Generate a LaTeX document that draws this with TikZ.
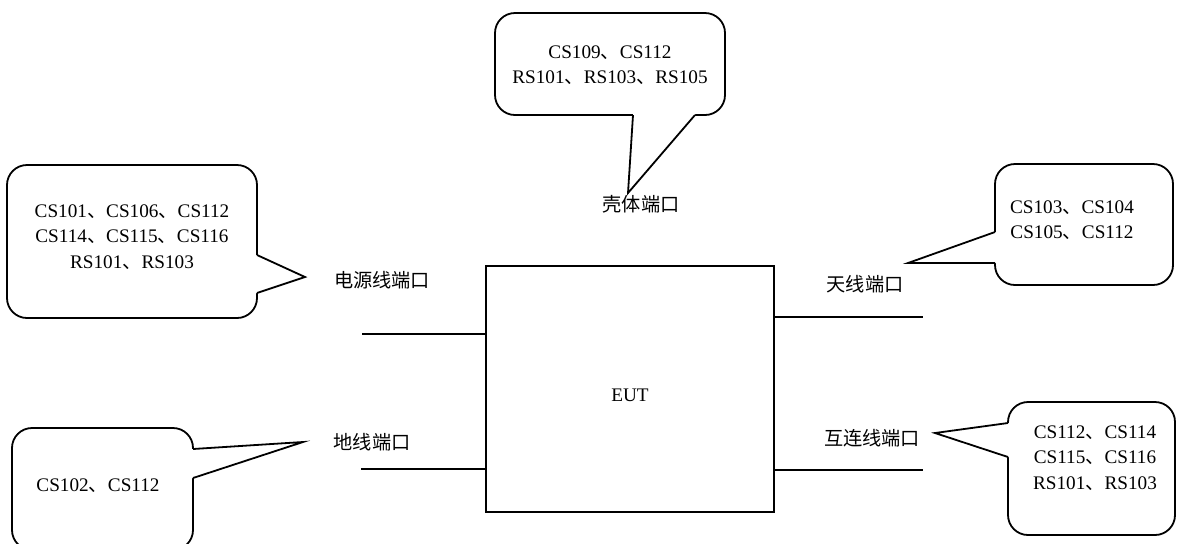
\documentclass[tikz,border=0pt]{standalone}
\usepackage{fontspec}
\setmainfont{Liberation Serif}
\newfontfamily\cjk{Noto Sans CJK SC}
\newcommand\dunhao{{\cjk 、}}
\usetikzlibrary{calc}
\begin{document}
\begin{tikzpicture}[x=0.5pt,y=-0.5pt, line width=0.9pt,
  bubble/.style={draw, rounded corners=10pt, fill=white, inner sep=0pt},
  btext/.style={align=center, inner sep=0pt, font=\fontsize{9.6}{12.8}\selectfont},
  port/.style={inner sep=0pt, font=\cjk\fontsize{9.6}{11}\selectfont},
  tailfill/.style={fill=white, draw=none},
  wire/.style={line width=0.9pt}]
\useasboundingbox (0,0) rectangle (1181,543);

% EUT
\node[draw, minimum width=144pt, minimum height=123pt, inner sep=0pt] (eut) at (630,389) {};
\node[inner sep=0pt, font=\fontsize{9.6}{11}\selectfont] (eutlbl) at (630,395) {EUT};

% port wires
\coordinate (pwrEnd) at (362,334);
\coordinate (gndEnd) at (361,469);
\coordinate (antEnd) at (923,317);
\coordinate (icEnd) at (923,470);
\draw[wire] (pwrEnd) -- (pwrEnd -| eut.west);
\draw[wire] (gndEnd) -- (gndEnd -| eut.west);
\draw[wire] (antEnd -| eut.east) -- (antEnd);
\draw[wire] (icEnd -| eut.east) -- (icEnd);

% port labels
\node[port] (pwr) at (382,280) {电源线端口};
\node[port] (gnd) at (372,442) {地线端口};
\node[port] (case) at (641,204) {壳体端口};
\node[port] (ant) at (865,284) {天线端口};
\node[port] (ic) at (872,438) {互连线端口};

% top callout
\node[bubble, minimum width=115pt, minimum height=51pt] (bTop) at (610,64) {};
\coordinate (tTopA) at (633,115);
\coordinate (tTopB) at (695,115);
\coordinate (tTopTip) at (628,193);
\fill[tailfill] (tTopA) -- (tTopTip) -- (tTopB) -- ($(tTopB)+(0,-4)$) -- ($(tTopA)+(0,-4)$) -- cycle;
\draw (tTopA) -- (tTopTip) -- (tTopB);
\node[btext] (bTopTxt) at (610,65) {CS109\dunhao CS112\\RS101\dunhao RS103\dunhao RS105};

% left-top callout (power)
\node[bubble, minimum width=125pt, minimum height=76.5pt] (bPwr) at (132,241.5) {};
\coordinate (tPwrA) at (257,255);
\coordinate (tPwrB) at (257,293);
\coordinate (tPwrTip) at (305,277);
\fill[tailfill] (tPwrA) -- (tPwrTip) -- (tPwrB) -- ($(tPwrB)+(-4,0)$) -- ($(tPwrA)+(-4,0)$) -- cycle;
\draw (tPwrA) -- (tPwrTip) -- (tPwrB);
\node[btext] (bPwrTxt) at (132,237) {CS101\dunhao CS106\dunhao CS112\\CS114\dunhao CS115\dunhao CS116\\RS101\dunhao RS103};

% right-top callout (antenna)
\node[bubble, minimum width=89pt, minimum height=60.5pt] (bAnt) at (1084,224.5) {};
\coordinate (tAntA) at (995,232);
\coordinate (tAntB) at (995,263);
\coordinate (tAntTip) at (908,263);
\fill[tailfill] (tAntA) -- (tAntTip) -- (tAntB) -- ($(tAntB)+(4,0)$) -- ($(tAntA)+(4,0)$) -- cycle;
\draw (tAntA) -- (tAntTip) -- (tAntB);
\node[btext] (bAntTxt) at (1072,220) {CS103\dunhao CS104\\CS105\dunhao CS112};

% bottom-left callout (ground)
\node[bubble, minimum width=90.5pt, minimum height=61pt] (bGnd) at (102.5,489) {};
\coordinate (tGndA) at (193,449);
\coordinate (tGndB) at (193,478);
\coordinate (tGndTip) at (303,442);
\fill[tailfill] (tGndA) -- (tGndTip) -- (tGndB) -- ($(tGndB)+(-4,0)$) -- ($(tGndA)+(-4,0)$) -- cycle;
\draw (tGndA) -- (tGndTip) -- (tGndB);
\node[btext] (bGndTxt) at (98,486) {CS102\dunhao CS112};

% bottom-right callout (interconnect)
\node[bubble, minimum width=83.5pt, minimum height=66.5pt] (bIc) at (1091.5,468.5) {};
\coordinate (tIcA) at (1008,423);
\coordinate (tIcB) at (1008,457);
\coordinate (tIcTip) at (935,433);
\fill[tailfill] (tIcA) -- (tIcTip) -- (tIcB) -- ($(tIcB)+(4,0)$) -- ($(tIcA)+(4,0)$) -- cycle;
\draw (tIcA) -- (tIcTip) -- (tIcB);
\node[btext] (bIcTxt) at (1095,458) {CS112\dunhao CS114\\CS115\dunhao CS116\\RS101\dunhao RS103};
\end{tikzpicture}
\end{document}
